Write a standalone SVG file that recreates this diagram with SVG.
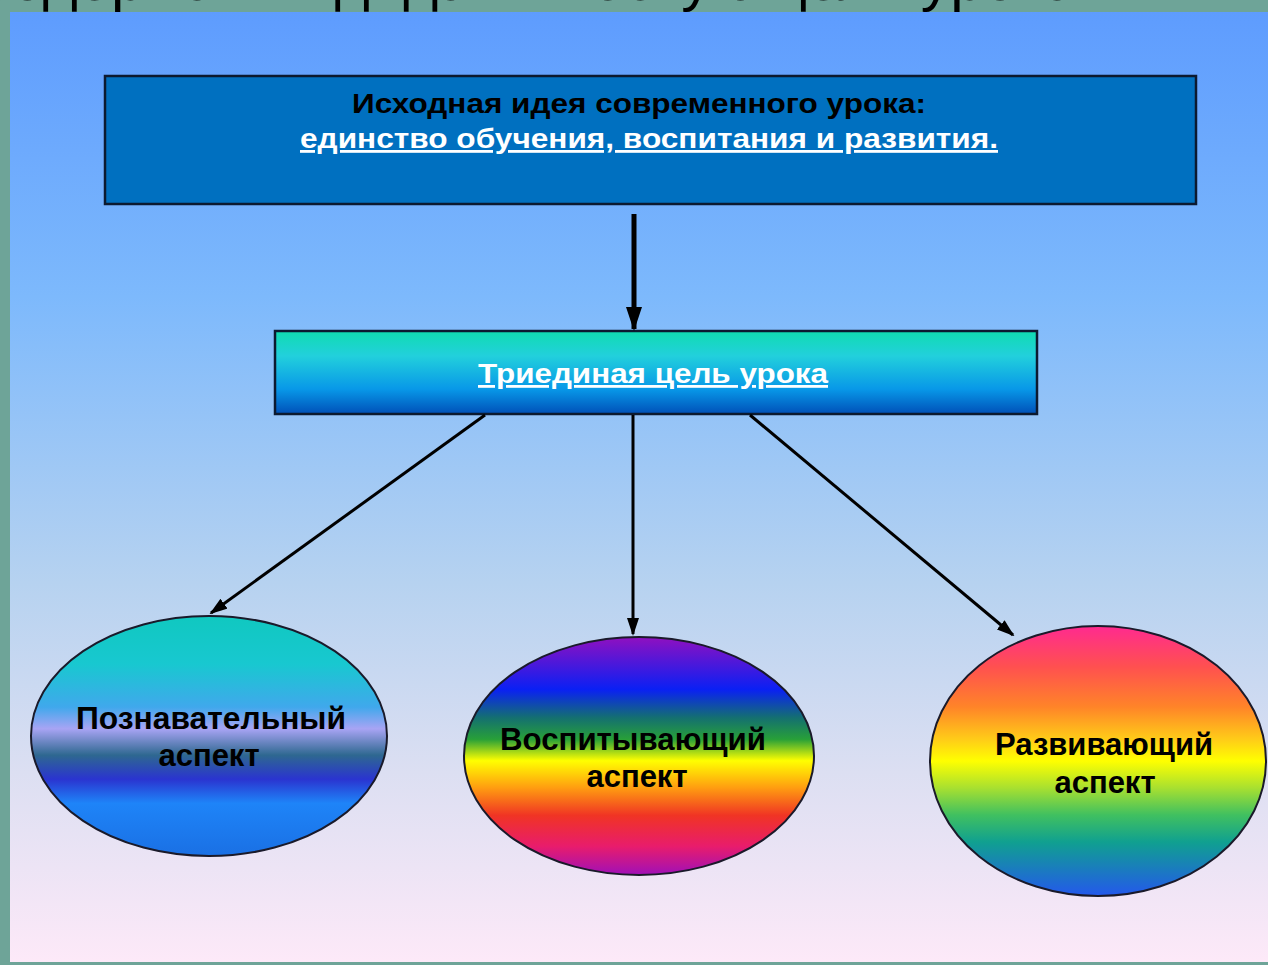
<svg xmlns="http://www.w3.org/2000/svg" width="1268" height="965" viewBox="0 0 1268 965">
<defs>
<linearGradient id="bg" x1="0" y1="0" x2="0" y2="1">
<stop offset="0" stop-color="#5e9cfe"/>
<stop offset="0.3" stop-color="#7db9fc"/>
<stop offset="0.6" stop-color="#b6d2f0"/>
<stop offset="0.8" stop-color="#dcdff2"/>
<stop offset="1" stop-color="#fde9f8"/>
</linearGradient>
<linearGradient id="gMid" x1="0" y1="0" x2="0" y2="1">
<stop offset="0" stop-color="#10dcb0"/>
<stop offset="0.3" stop-color="#22d0dc"/>
<stop offset="0.7" stop-color="#0898e8"/>
<stop offset="1" stop-color="#0050b8"/>
</linearGradient>
<linearGradient id="g1" x1="0" y1="0" x2="0" y2="1">
<stop offset="0" stop-color="#10c8c0"/>
<stop offset="0.2" stop-color="#18c8d0"/>
<stop offset="0.38" stop-color="#40a8ec"/>
<stop offset="0.47" stop-color="#a8a4f4"/>
<stop offset="0.58" stop-color="#2e6890"/>
<stop offset="0.68" stop-color="#2a34d0"/>
<stop offset="0.78" stop-color="#1e84f8"/>
<stop offset="1" stop-color="#1a70e4"/>
</linearGradient>
<linearGradient id="g2" x1="0" y1="0" x2="0" y2="1">
<stop offset="0" stop-color="#9010c0"/>
<stop offset="0.22" stop-color="#0a20f4"/>
<stop offset="0.34" stop-color="#147070"/>
<stop offset="0.43" stop-color="#28a038"/>
<stop offset="0.52" stop-color="#ffff00"/>
<stop offset="0.63" stop-color="#ffa010"/>
<stop offset="0.75" stop-color="#f03424"/>
<stop offset="0.88" stop-color="#e81c6c"/>
<stop offset="1" stop-color="#a010b8"/>
</linearGradient>
<linearGradient id="g3" x1="0" y1="0" x2="0" y2="1">
<stop offset="0" stop-color="#ff2a90"/>
<stop offset="0.15" stop-color="#ff5050"/>
<stop offset="0.3" stop-color="#ff8428"/>
<stop offset="0.42" stop-color="#ffcc18"/>
<stop offset="0.5" stop-color="#ffff00"/>
<stop offset="0.6" stop-color="#a8e030"/>
<stop offset="0.7" stop-color="#40c060"/>
<stop offset="0.8" stop-color="#10a090"/>
<stop offset="1" stop-color="#2458ec"/>
</linearGradient>
<marker id="ahBig" markerWidth="24" markerHeight="16" refX="22" refY="8" orient="auto" markerUnits="userSpaceOnUse">
<path d="M0,0 L24,8 L0,16 z" fill="#000"/>
</marker>
<marker id="ahS" markerWidth="18" markerHeight="12" refX="16" refY="6" orient="auto" markerUnits="userSpaceOnUse">
<path d="M0,0 L18,6 L0,12 z" fill="#000"/>
</marker>
</defs>
<style>
.box{stroke:#0c1a30;stroke-width:2.5}
.ell{stroke:#1a1a2a;stroke-width:2}
.t{font-family:"Liberation Sans",Arial,sans-serif;font-weight:bold;text-anchor:middle}
.dark{fill:#000}
.lite{fill:#fff;text-decoration:underline}
.conn{stroke:#000;fill:none}
</style>
<rect x="0" y="0" width="1268" height="965" fill="#6ea498"/>
<text x="-20" y="0" font-family="'Liberation Sans',Arial,sans-serif" font-size="60" fill="#000">содержании дидактическую цель урока</text>
<rect x="10" y="12" width="1258" height="950" fill="url(#bg)"/>

<g id="top">
<rect class="box" x="105" y="76" width="1091" height="128" fill="#0070c0"/>
<text class="t dark" x="639" y="113" font-size="28" textLength="574" lengthAdjust="spacingAndGlyphs">Исходная идея современного урока:</text>
<text class="t lite" x="649" y="148" font-size="28" textLength="698" lengthAdjust="spacingAndGlyphs">единство обучения,  воспитания и развития.</text>
</g>

<g id="mid">
<rect class="box" x="275" y="331" width="762" height="83" fill="url(#gMid)"/>
<text class="t lite" x="653" y="383" font-size="28" textLength="350" lengthAdjust="spacingAndGlyphs">Триединая цель урока</text>
</g>

<g id="connectors">
<line class="conn" x1="634" y1="214" x2="634" y2="329" stroke-width="5" marker-end="url(#ahBig)"/>
<line class="conn" x1="485" y1="415" x2="211" y2="613" stroke-width="3" marker-end="url(#ahS)"/>
<line class="conn" x1="633" y1="415" x2="633" y2="634" stroke-width="3" marker-end="url(#ahS)"/>
<line class="conn" x1="750" y1="415" x2="1013" y2="635" stroke-width="3" marker-end="url(#ahS)"/>
</g>

<g id="cog">
<ellipse class="ell" cx="209" cy="736" rx="178" ry="120" fill="url(#g1)"/>
<text class="t dark" x="211" y="729" font-size="31" textLength="270" lengthAdjust="spacingAndGlyphs">Познавательный</text>
<text class="t dark" x="209" y="766" font-size="31">аспект</text>
</g>

<g id="edu">
<ellipse class="ell" cx="639" cy="756" rx="175" ry="119" fill="url(#g2)"/>
<text class="t dark" x="633" y="750" font-size="31" textLength="266" lengthAdjust="spacingAndGlyphs">Воспитывающий</text>
<text class="t dark" x="637" y="787" font-size="31">аспект</text>
</g>

<g id="dev">
<ellipse class="ell" cx="1098" cy="761" rx="168" ry="135" fill="url(#g3)"/>
<text class="t dark" x="1104" y="755" font-size="31" textLength="218" lengthAdjust="spacingAndGlyphs">Развивающий</text>
<text class="t dark" x="1105" y="793" font-size="31">аспект</text>
</g>
</svg>
